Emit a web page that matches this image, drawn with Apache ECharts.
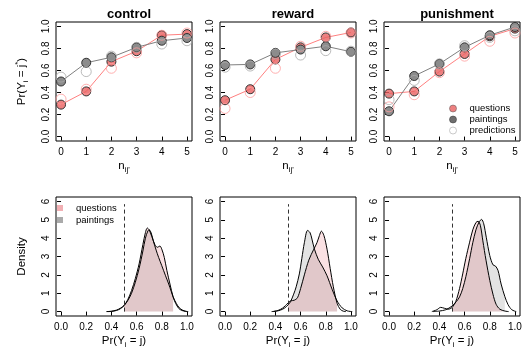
<!DOCTYPE html>
<html>
<head>
<meta charset="utf-8">
<script src="https://cdn.jsdelivr.net/npm/echarts@6/dist/echarts.min.js"></script>
<style>
  html, body { margin: 0; padding: 0; background: #fff; }
</style>
</head>
<body>
<div id="chart" style="width:525px; height:350px"></div>
<script>
// ---- data ----
var panels = ['control', 'reward', 'punishment'];
var nVals = [0, 1, 2, 3, 4, 5];

// top row: Pr(Y_i = j*) by n_ij'
var ctrlQuestions = [0.29, 0.41, 0.68, 0.775, 0.92, 0.93];
var ctrlPaintings = [0.50, 0.67, 0.72, 0.81, 0.87, 0.895];
var ctrlQuestionsPred = [0.34, 0.43, 0.62, 0.76, 0.92, 0.94];
var ctrlPaintingsPred = [0.54, 0.59, 0.73, 0.81, 0.84, 0.87];

var rewQuestions = [0.33, 0.43, 0.70, 0.81, 0.90, 0.945];
var rewPaintings = [0.65, 0.655, 0.76, 0.79, 0.82, 0.77];
var rewQuestionsPred = [0.255, 0.40, 0.62, 0.82, 0.91, 0.94];
var rewPaintingsPred = [0.63, 0.64, 0.75, 0.74, 0.78, 0.775];

var punQuestions = [0.39, 0.41, 0.59, 0.75, 0.91, 0.98];
var punPaintings = [0.23, 0.55, 0.66, 0.81, 0.92, 0.995];
var punQuestionsPred = [0.27, 0.38, 0.58, 0.73, 0.865, 0.94];
var punPaintingsPred = [0.335, 0.51, 0.66, 0.825, 0.90, 0.96];

// bottom row: density of Pr(Y_i = j), [x, density]
var ctrlQuestionsDens = [[0.37,0],[0.4,0.01],[0.44,0.06],[0.47,0.15],[0.5,0.32],[0.53,0.65],[0.56,1.15],[0.59,1.8],[0.62,2.6],[0.65,3.65],[0.67,4.3],[0.685,4.55],[0.70,4.45],[0.72,4.1],[0.745,3.65],[0.765,3.5],[0.785,3.57],[0.80,3.4],[0.82,2.95],[0.84,2.25],[0.865,1.5],[0.89,0.8],[0.91,0.45],[0.935,0.17],[0.96,0.06],[0.99,0.01],[1.0,0]];
var ctrlPaintingsDens = [[0.36,0],[0.4,0.02],[0.44,0.08],[0.47,0.18],[0.5,0.33],[0.53,0.6],[0.56,1.0],[0.59,1.6],[0.62,2.35],[0.65,3.3],[0.67,4.0],[0.69,4.4],[0.70,4.45],[0.715,4.3],[0.735,3.8],[0.755,3.35],[0.775,2.95],[0.80,2.5],[0.83,1.95],[0.855,1.5],[0.875,1.1],[0.89,0.8],[0.915,0.45],[0.94,0.2],[0.965,0.08],[0.99,0.02],[1.01,0]];

var rewQuestionsDens = [[0.38,0],[0.42,0.06],[0.455,0.18],[0.48,0.33],[0.5,0.47],[0.52,0.58],[0.55,0.62],[0.575,0.75],[0.6,1.25],[0.63,2.0],[0.665,2.8],[0.705,3.4],[0.73,3.75],[0.75,4.15],[0.765,4.38],[0.785,4.15],[0.81,3.4],[0.835,2.35],[0.86,1.35],[0.89,0.45],[0.915,0.12],[0.94,0.02],[0.96,0]];
var rewPaintingsDens = [[0.37,0],[0.41,0.03],[0.44,0.08],[0.47,0.18],[0.5,0.36],[0.52,0.54],[0.545,0.95],[0.565,1.35],[0.59,2.05],[0.61,2.9],[0.63,3.75],[0.655,4.42],[0.675,4.3],[0.69,3.95],[0.71,3.4],[0.74,2.85],[0.775,2.43],[0.81,1.95],[0.85,1.22],[0.89,0.58],[0.93,0.2],[0.97,0.04],[1.01,0]];

var punQuestionsDens = [[0.34,0],[0.38,0.1],[0.41,0.23],[0.44,0.18],[0.47,0.13],[0.5,0.22],[0.53,0.55],[0.56,1.26],[0.585,2.05],[0.61,2.9],[0.64,3.78],[0.665,4.45],[0.69,4.85],[0.707,4.92],[0.725,4.7],[0.745,3.85],[0.77,2.8],[0.8,1.7],[0.825,0.95],[0.85,0.4],[0.88,0.13],[0.92,0.03],[0.95,0]];
var punPaintingsDens = [[0.35,0],[0.4,0.03],[0.45,0.1],[0.5,0.3],[0.535,0.55],[0.56,0.8],[0.585,1.25],[0.61,1.9],[0.64,2.88],[0.665,3.75],[0.69,4.45],[0.715,4.88],[0.735,5.02],[0.752,4.78],[0.772,4.05],[0.8,3.05],[0.825,2.55],[0.845,2.48],[0.865,2.25],[0.89,1.5],[0.92,0.81],[0.945,0.38],[0.975,0.1],[1.01,0]];

var cutoff = 0.5;          // dashed reference line
var cutoffTop = 5.85;
var shadeHi = [0.89, 0.89, 0.92];  // end of shaded region per panel

var topTicks = [0, 0.2, 0.4, 0.6, 0.8, 1.0];
var densXTicks = [0, 0.2, 0.4, 0.6, 0.8, 1.0];
var densYTicks = [0, 1, 2, 3, 4, 5, 6];

var topData = [
  [ctrlQuestions, ctrlPaintings, ctrlQuestionsPred, ctrlPaintingsPred],
  [rewQuestions, rewPaintings, rewQuestionsPred, rewPaintingsPred],
  [punQuestions, punPaintings, punQuestionsPred, punPaintingsPred]
];
var densData = [
  [ctrlQuestionsDens, ctrlPaintingsDens],
  [rewQuestionsDens, rewPaintingsDens],
  [punQuestionsDens, punPaintingsDens]
];

// ---- styles ----
var FONT = 'Liberation Sans';
var red = '#ff8080';
var redFill = 'rgba(232,96,96,0.8)';
var redOpen = '#ff9c9c';
var grey = '#808080';
var greyFill = '#8c8c8c';
var greyOpen = '#aaaaaa';
var pinkShade = 'rgba(220,20,40,0.13)';
var greyShade = 'rgba(0,0,0,0.11)';

var lefts = [56, 220, 384];
var W = 136, H = 119;
var tops = [22, 197];

function pairs(vals) {
  return nVals.map(function (n, k) { return [n, vals[k]]; });
}
function shade(d, hi) {
  return d.filter(function (p) { return p[0] >= cutoff && p[0] <= hi; });
}

var grids = [], xAxes = [], yAxes = [], series = [], titles = [];
var subRich = {
  s: { fontSize: 8, lineHeight: 8, verticalAlign: 'bottom', fontFamily: FONT, color: '#000' },
  u: { fontSize: 8, lineHeight: 8, verticalAlign: 'top', fontFamily: FONT, color: '#000' }
};

function axisCommon(ticks, fmt) {
  return {
    axisLine: { show: false },
    axisTick: { show: true, inside: false, length: 4, lineStyle: { color: '#000' }, customValues: ticks },
    axisLabel: { fontFamily: FONT, fontSize: 10, color: '#000', customValues: ticks, formatter: fmt },
    splitLine: { show: false }
  };
}

for (var row = 0; row < 2; row++) {
  for (var i = 0; i < 3; i++) {
    var g = row * 3 + i;
    grids.push({ left: lefts[i], top: tops[row], width: W, height: H, show: true, borderColor: '#000', borderWidth: 1, backgroundColor: 'transparent' });

    var xa, ya;
    if (row === 0) {
      xa = axisCommon(nVals, function (v) { return String(v); });
      xa.min = -0.2; xa.max = 5.2;
      xa.name = 'n{s|ij\'}';
      xa.nameGap = 15;
      ya = axisCommon(topTicks, function (v) { return v.toFixed(1); });
      ya.min = -0.04; ya.max = 1.04;
      if (i === 0) ya.name = 'Pr(Y{s|i} = j{u|*})';
    } else {
      xa = axisCommon(densXTicks, function (v) { return v.toFixed(1); });
      xa.min = -0.04; xa.max = 1.04;
      xa.name = 'Pr(Y{s|i} = j)';
      xa.nameGap = 15;
      ya = axisCommon(densYTicks, function (v) { return String(v); });
      ya.min = -0.24; ya.max = 6.24;
      if (i === 0) ya.name = 'Density';
    }
    xa.type = 'value'; xa.gridIndex = g; xa.position = 'bottom';
    xa.nameLocation = 'middle';
    xa.nameTextStyle = { fontFamily: FONT, fontSize: 11.5, color: '#000', lineHeight: 16, rich: subRich };
    xa.axisLabel.margin = 6;
    ya.type = 'value'; ya.gridIndex = g; ya.position = 'left';
    ya.nameLocation = 'middle'; ya.nameRotate = 90; ya.nameGap = 26;
    ya.nameTextStyle = { fontFamily: FONT, fontSize: 11.5, color: '#000', lineHeight: 16, rich: subRich };
    ya.axisLabel.rotate = 90;
    ya.axisLabel.margin = 5;
    xAxes.push(xa); yAxes.push(ya);

    if (row === 0) {
      var td = topData[i];
      series.push({
        name: 'questions', type: 'line', xAxisIndex: g, yAxisIndex: g, data: pairs(td[0]),
        symbol: 'circle', symbolSize: 9, z: 3,
        lineStyle: { color: red, width: 1 },
        itemStyle: { color: redFill, borderColor: '#333', borderWidth: 1 }
      });
      series.push({
        name: 'paintings', type: 'line', xAxisIndex: g, yAxisIndex: g, data: pairs(td[1]),
        symbol: 'circle', symbolSize: 9, z: 3,
        lineStyle: { color: grey, width: 1 },
        itemStyle: { color: greyFill, borderColor: '#333', borderWidth: 1 }
      });
      series.push({
        name: 'predictions', type: 'scatter', xAxisIndex: g, yAxisIndex: g, data: pairs(td[2]),
        symbol: 'circle', symbolSize: 10, z: 4,
        itemStyle: { color: 'rgba(0,0,0,0)', borderColor: redOpen, borderWidth: 1 }
      });
      series.push({
        name: 'predictions', type: 'scatter', xAxisIndex: g, yAxisIndex: g, data: pairs(td[3]),
        symbol: 'circle', symbolSize: 10, z: 4,
        itemStyle: { color: 'rgba(0,0,0,0)', borderColor: greyOpen, borderWidth: 1 }
      });
      titles.push({
        text: panels[i], left: lefts[i] + W / 2, top: 3, textAlign: 'center',
        textStyle: { fontFamily: FONT, fontSize: 13, fontWeight: 'bold', color: '#000' }
      });
    } else {
      var dd = densData[i];
      series.push({
        type: 'line', xAxisIndex: g, yAxisIndex: g, data: shade(dd[1], shadeHi[i]),
        smooth: 0.3, showSymbol: false, lineStyle: { width: 0 }, areaStyle: { color: greyShade, opacity: 1 }, z: 1, silent: true
      });
      series.push({
        type: 'line', xAxisIndex: g, yAxisIndex: g, data: shade(dd[0], shadeHi[i]),
        smooth: 0.3, showSymbol: false, lineStyle: { width: 0 }, areaStyle: { color: pinkShade, opacity: 1 }, z: 1, silent: true
      });
      series.push({
        name: 'questions', type: 'line', xAxisIndex: g, yAxisIndex: g, data: dd[0],
        smooth: 0.3, showSymbol: false, lineStyle: { color: '#000', width: 1 }, z: 2
      });
      series.push({
        name: 'paintings', type: 'line', xAxisIndex: g, yAxisIndex: g, data: dd[1],
        smooth: 0.3, showSymbol: false, lineStyle: { color: '#000', width: 1 }, z: 2,
        markLine: {
          silent: true, symbol: 'none', label: { show: false },
          lineStyle: { color: '#333', type: [4, 3], width: 1 },
          data: [[{ coord: [cutoff, 0] }, { coord: [cutoff, cutoffTop] }]]
        }
      });
    }
  }
}

var chart = echarts.init(document.getElementById('chart'), null, { renderer: 'canvas' });
chart.setOption({
  animation: false,
  backgroundColor: '#fff',
  title: titles,
  legend: [
    {
      orient: 'vertical', left: 449, top: 103, itemGap: 0, itemWidth: 7, itemHeight: 7,
      padding: 0, selectedMode: false,
      textStyle: { fontFamily: FONT, fontSize: 9.5, lineHeight: 11, color: '#000', padding: [0, 0, 0, 8] },
      data: [
        { name: 'questions', icon: 'circle', itemStyle: { color: redFill, borderColor: '#555', borderWidth: 0.5 } },
        { name: 'paintings', icon: 'circle', itemStyle: { color: '#6e6e6e', borderColor: '#333', borderWidth: 0.5 } },
        { name: 'predictions', icon: 'circle', itemStyle: { color: '#fff', borderColor: '#bbb', borderWidth: 1 } }
      ]
    },
    {
      orient: 'vertical', left: 57, top: 202, itemGap: 0, itemWidth: 6, itemHeight: 6,
      padding: 0, selectedMode: false,
      textStyle: { fontFamily: FONT, fontSize: 9.5, lineHeight: 12, color: '#000', padding: [0, 0, 0, 8] },
      data: [
        { name: 'questions', icon: 'rect', itemStyle: { color: '#f2b0b4', borderWidth: 0 }, lineStyle: { opacity: 0 } },
        { name: 'paintings', icon: 'rect', itemStyle: { color: '#aaaaaa', borderWidth: 0 }, lineStyle: { opacity: 0 } }
      ]
    }
  ],
  grid: grids,
  xAxis: xAxes,
  yAxis: yAxes,
  series: series
});
</script>
</body>
</html>
